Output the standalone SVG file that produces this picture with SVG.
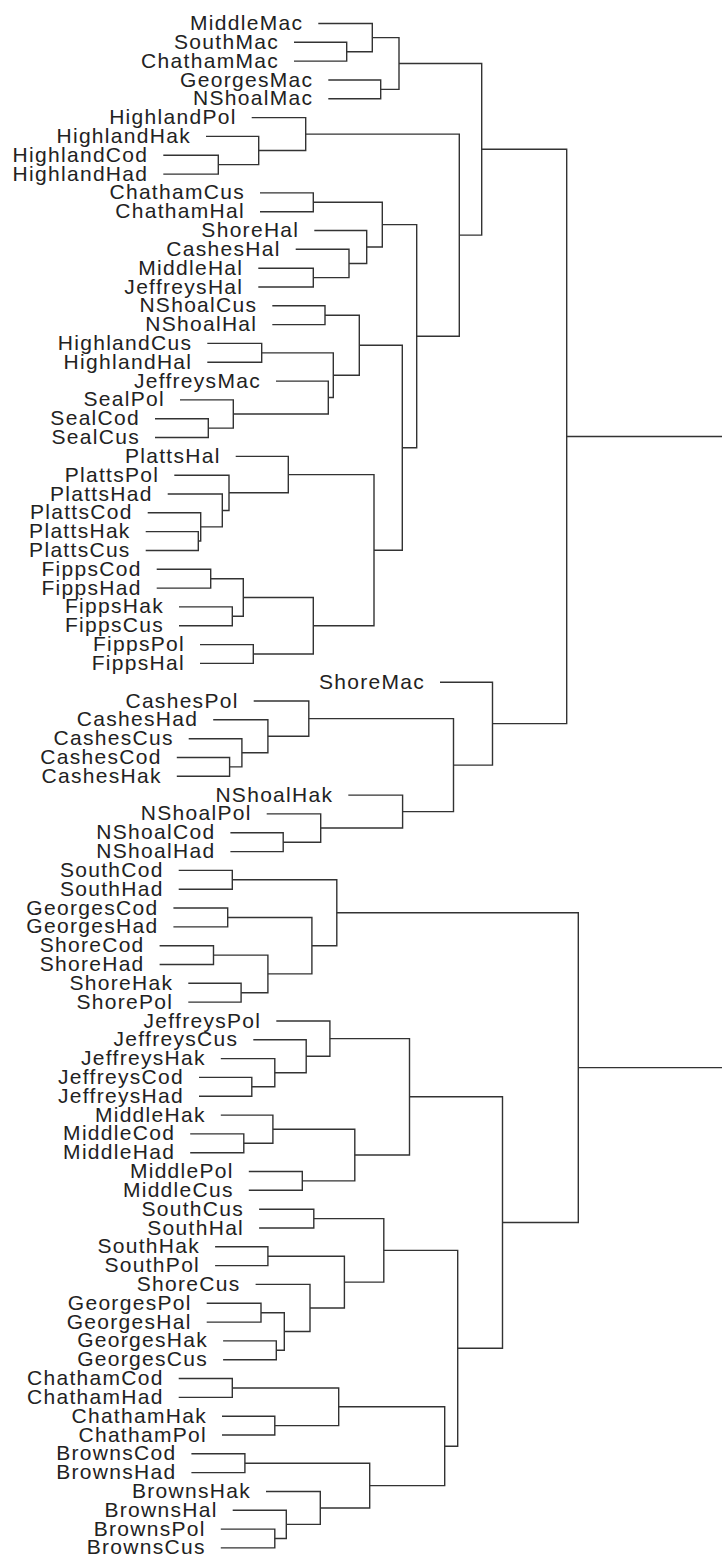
<svg xmlns="http://www.w3.org/2000/svg" width="722" height="1558" viewBox="0 0 722 1558">
<style>
.lbl{font-family:"Liberation Sans",Arial,sans-serif;font-size:21px;letter-spacing:1.3px;fill:#222;text-anchor:end}
.cn path{fill:none;stroke:#333;stroke-width:1.4}
</style>
<rect width="722" height="1558" fill="#fff"/>
<g id="connectors" class="cn">
<path d="M294 42.3H346.7V61.1H294"/>
<path d="M318.3 23.5H372.3V51.7H346.7"/>
<path d="M328.3 80H380.7V98.8H328.3"/>
<path d="M372.3 37.6H399V89.4H380.7"/>
<path d="M163.3 155.2H218.3V174.1H163.3"/>
<path d="M206 136.4H258.7V164.65H218.3"/>
<path d="M251.7 117.6H305.7V150.5H258.7"/>
<path d="M260 192.9H313.3V211.7H260"/>
<path d="M258.3 268.2H313.3V287H258.3"/>
<path d="M295.7 249.3H349V277.6H313.3"/>
<path d="M314.3 230.5H366.7V263.5H349"/>
<path d="M313.3 202.3H382.3V247H366.7"/>
<path d="M272.3 305.8H325V324.6H272.3"/>
<path d="M207.3 343.4H261.7V362.3H207.3"/>
<path d="M155 418.7H208.3V437.5H155"/>
<path d="M180 399.9H233.3V428.1H208.3"/>
<path d="M276 381.1H328.3V414H233.3"/>
<path d="M261.7 352.85H333.3V397.55H328.3"/>
<path d="M325 315.2H359.3V375.2H333.3"/>
<path d="M145.7 531.6H198.3V550.5H145.7"/>
<path d="M147.7 512.8H200.7V541.05H198.3"/>
<path d="M167.7 494H222.3V526.9H200.7"/>
<path d="M174.3 475.2H229V510.45H222.3"/>
<path d="M235.7 456.4H288.3V492.8H229"/>
<path d="M156.7 569.3H210.7V588.1H156.7"/>
<path d="M179 606.9H232.3V625.7H179"/>
<path d="M210.7 578.7H243.3V616.3H232.3"/>
<path d="M200 644.6H253.3V663.4H200"/>
<path d="M243.3 597.5H313.3V654H253.3"/>
<path d="M288.3 474.6H374V625.75H313.3"/>
<path d="M359.3 345.2H402.3V550.2H374"/>
<path d="M382.3 224.65H416.7V447.7H402.3"/>
<path d="M305.7 134.1H459.3V336.2H416.7"/>
<path d="M399 63.5H481.7V235.15H459.3"/>
<path d="M176.8 757.5H229.6V776.3H176.8"/>
<path d="M188.7 738.7H241.9V766.9H229.6"/>
<path d="M213.2 719.8H267.9V752.8H241.9"/>
<path d="M253.7 701H308.8V736.3H267.9"/>
<path d="M230.4 832.8H283.2V851.6H230.4"/>
<path d="M266.7 813.9H320.7V842.2H283.2"/>
<path d="M348.3 795.1H402.6V828.05H320.7"/>
<path d="M308.8 718.65H453.5V811.6H402.6"/>
<path d="M440 682.2H492.5V765.1H453.5"/>
<path d="M481.7 149.3H566.7V723.65H492.5"/>
<path d="M566.7 436.5H722"/>
<path d="M178.7 870.4H232.3V889.2H178.7"/>
<path d="M173.4 908H227.7V926.9H173.4"/>
<path d="M159.6 945.7H213.5V964.5H159.6"/>
<path d="M188.3 983.3H241.1V1002.1H188.3"/>
<path d="M213.5 955.1H267.9V992.7H241.1"/>
<path d="M227.7 917.45H311.9V973.9H267.9"/>
<path d="M232.3 879.8H336.8V945.7H311.9"/>
<path d="M199 1077.4H251.8V1096.2H199"/>
<path d="M220.8 1058.6H274.8V1086.8H251.8"/>
<path d="M253.3 1039.8H306.2V1072.7H274.8"/>
<path d="M276.3 1021H329.9V1056.25H306.2"/>
<path d="M190.2 1133.9H243.8V1152.7H190.2"/>
<path d="M220.8 1115.1H272.9V1143.3H243.8"/>
<path d="M248.8 1171.5H302.3V1190.3H248.8"/>
<path d="M272.9 1129.2H354.8V1180.9H302.3"/>
<path d="M329.9 1038.6H409.5V1155.05H354.8"/>
<path d="M259.1 1209.2H313.8V1228H259.1"/>
<path d="M215.1 1246.8H267.9V1265.6H215.1"/>
<path d="M206.7 1303.3H261V1322.1H206.7"/>
<path d="M223.1 1340.9H276.3V1359.7H223.1"/>
<path d="M261 1312.7H284.3V1350.3H276.3"/>
<path d="M255.6 1284.4H310V1331.5H284.3"/>
<path d="M267.9 1256.2H344.4V1307.95H310"/>
<path d="M313.8 1218.6H383.8V1282.1H344.4"/>
<path d="M178.7 1378.5H232.3V1397.4H178.7"/>
<path d="M222 1416.2H274.8V1435H222"/>
<path d="M232.3 1387.95H338.7V1425.6H274.8"/>
<path d="M191.4 1453.8H244.9V1472.6H191.4"/>
<path d="M220.8 1529.1H274.8V1547.9H220.8"/>
<path d="M232.7 1510.3H286.3V1538.5H274.8"/>
<path d="M266 1491.5H320.3V1524.4H286.3"/>
<path d="M244.9 1463.2H369.7V1507.95H320.3"/>
<path d="M338.7 1406.8H444.7V1485.6H369.7"/>
<path d="M383.8 1250.35H457.7V1446.2H444.7"/>
<path d="M409.5 1096.8H502.5V1348.3H457.7"/>
<path d="M336.8 912.75H578.3V1222.55H502.5"/>
<path d="M578.3 1067.65H722"/>
</g>
<g id="n-MiddleMac"><text class="lbl" x="303.3" y="30">MiddleMac</text></g>
<g id="n-SouthMac"><text class="lbl" x="279" y="48.8">SouthMac</text></g>
<g id="n-ChathamMac"><text class="lbl" x="279" y="67.6">ChathamMac</text></g>
<g id="n-GeorgesMac"><text class="lbl" x="313.3" y="86.5">GeorgesMac</text></g>
<g id="n-NShoalMac"><text class="lbl" x="313.3" y="105.3">NShoalMac</text></g>
<g id="n-HighlandPol"><text class="lbl" x="236.7" y="124.1">HighlandPol</text></g>
<g id="n-HighlandHak"><text class="lbl" x="191" y="142.9">HighlandHak</text></g>
<g id="n-HighlandCod"><text class="lbl" x="148.3" y="161.7">HighlandCod</text></g>
<g id="n-HighlandHad"><text class="lbl" x="148.3" y="180.6">HighlandHad</text></g>
<g id="n-ChathamCus"><text class="lbl" x="245" y="199.4">ChathamCus</text></g>
<g id="n-ChathamHal"><text class="lbl" x="245" y="218.2">ChathamHal</text></g>
<g id="n-ShoreHal"><text class="lbl" x="299.3" y="237">ShoreHal</text></g>
<g id="n-CashesHal"><text class="lbl" x="280.7" y="255.8">CashesHal</text></g>
<g id="n-MiddleHal"><text class="lbl" x="243.3" y="274.7">MiddleHal</text></g>
<g id="n-JeffreysHal"><text class="lbl" x="243.3" y="293.5">JeffreysHal</text></g>
<g id="n-NShoalCus"><text class="lbl" x="257.3" y="312.3">NShoalCus</text></g>
<g id="n-NShoalHal"><text class="lbl" x="257.3" y="331.1">NShoalHal</text></g>
<g id="n-HighlandCus"><text class="lbl" x="192.3" y="349.9">HighlandCus</text></g>
<g id="n-HighlandHal"><text class="lbl" x="192.3" y="368.8">HighlandHal</text></g>
<g id="n-JeffreysMac"><text class="lbl" x="261" y="387.6">JeffreysMac</text></g>
<g id="n-SealPol"><text class="lbl" x="165" y="406.4">SealPol</text></g>
<g id="n-SealCod"><text class="lbl" x="140" y="425.2">SealCod</text></g>
<g id="n-SealCus"><text class="lbl" x="140" y="444">SealCus</text></g>
<g id="n-PlattsHal"><text class="lbl" x="220.7" y="462.9">PlattsHal</text></g>
<g id="n-PlattsPol"><text class="lbl" x="159.3" y="481.7">PlattsPol</text></g>
<g id="n-PlattsHad"><text class="lbl" x="152.7" y="500.5">PlattsHad</text></g>
<g id="n-PlattsCod"><text class="lbl" x="132.7" y="519.3">PlattsCod</text></g>
<g id="n-PlattsHak"><text class="lbl" x="130.7" y="538.1">PlattsHak</text></g>
<g id="n-PlattsCus"><text class="lbl" x="130.7" y="557">PlattsCus</text></g>
<g id="n-FippsCod"><text class="lbl" x="141.7" y="575.8">FippsCod</text></g>
<g id="n-FippsHad"><text class="lbl" x="141.7" y="594.6">FippsHad</text></g>
<g id="n-FippsHak"><text class="lbl" x="164" y="613.4">FippsHak</text></g>
<g id="n-FippsCus"><text class="lbl" x="164" y="632.2">FippsCus</text></g>
<g id="n-FippsPol"><text class="lbl" x="185" y="651.1">FippsPol</text></g>
<g id="n-FippsHal"><text class="lbl" x="185" y="669.9">FippsHal</text></g>
<g id="n-ShoreMac"><text class="lbl" x="425" y="688.7">ShoreMac</text></g>
<g id="n-CashesPol"><text class="lbl" x="238.7" y="707.5">CashesPol</text></g>
<g id="n-CashesHad"><text class="lbl" x="198.2" y="726.3">CashesHad</text></g>
<g id="n-CashesCus"><text class="lbl" x="173.7" y="745.2">CashesCus</text></g>
<g id="n-CashesCod"><text class="lbl" x="161.8" y="764">CashesCod</text></g>
<g id="n-CashesHak"><text class="lbl" x="161.8" y="782.8">CashesHak</text></g>
<g id="n-NShoalHak"><text class="lbl" x="333.3" y="801.6">NShoalHak</text></g>
<g id="n-NShoalPol"><text class="lbl" x="251.7" y="820.4">NShoalPol</text></g>
<g id="n-NShoalCod"><text class="lbl" x="215.4" y="839.3">NShoalCod</text></g>
<g id="n-NShoalHad"><text class="lbl" x="215.4" y="858.1">NShoalHad</text></g>
<g id="n-SouthCod"><text class="lbl" x="163.7" y="876.9">SouthCod</text></g>
<g id="n-SouthHad"><text class="lbl" x="163.7" y="895.7">SouthHad</text></g>
<g id="n-GeorgesCod"><text class="lbl" x="158.4" y="914.5">GeorgesCod</text></g>
<g id="n-GeorgesHad"><text class="lbl" x="158.4" y="933.4">GeorgesHad</text></g>
<g id="n-ShoreCod"><text class="lbl" x="144.6" y="952.2">ShoreCod</text></g>
<g id="n-ShoreHad"><text class="lbl" x="144.6" y="971">ShoreHad</text></g>
<g id="n-ShoreHak"><text class="lbl" x="173.3" y="989.8">ShoreHak</text></g>
<g id="n-ShorePol"><text class="lbl" x="173.3" y="1008.6">ShorePol</text></g>
<g id="n-JeffreysPol"><text class="lbl" x="261.3" y="1027.5">JeffreysPol</text></g>
<g id="n-JeffreysCus"><text class="lbl" x="238.3" y="1046.3">JeffreysCus</text></g>
<g id="n-JeffreysHak"><text class="lbl" x="205.8" y="1065.1">JeffreysHak</text></g>
<g id="n-JeffreysCod"><text class="lbl" x="184" y="1083.9">JeffreysCod</text></g>
<g id="n-JeffreysHad"><text class="lbl" x="184" y="1102.7">JeffreysHad</text></g>
<g id="n-MiddleHak"><text class="lbl" x="205.8" y="1121.6">MiddleHak</text></g>
<g id="n-MiddleCod"><text class="lbl" x="175.2" y="1140.4">MiddleCod</text></g>
<g id="n-MiddleHad"><text class="lbl" x="175.2" y="1159.2">MiddleHad</text></g>
<g id="n-MiddlePol"><text class="lbl" x="233.8" y="1178">MiddlePol</text></g>
<g id="n-MiddleCus"><text class="lbl" x="233.8" y="1196.8">MiddleCus</text></g>
<g id="n-SouthCus"><text class="lbl" x="244.1" y="1215.7">SouthCus</text></g>
<g id="n-SouthHal"><text class="lbl" x="244.1" y="1234.5">SouthHal</text></g>
<g id="n-SouthHak"><text class="lbl" x="200.1" y="1253.3">SouthHak</text></g>
<g id="n-SouthPol"><text class="lbl" x="200.1" y="1272.1">SouthPol</text></g>
<g id="n-ShoreCus"><text class="lbl" x="240.6" y="1290.9">ShoreCus</text></g>
<g id="n-GeorgesPol"><text class="lbl" x="191.7" y="1309.8">GeorgesPol</text></g>
<g id="n-GeorgesHal"><text class="lbl" x="191.7" y="1328.6">GeorgesHal</text></g>
<g id="n-GeorgesHak"><text class="lbl" x="208.1" y="1347.4">GeorgesHak</text></g>
<g id="n-GeorgesCus"><text class="lbl" x="208.1" y="1366.2">GeorgesCus</text></g>
<g id="n-ChathamCod"><text class="lbl" x="163.7" y="1385">ChathamCod</text></g>
<g id="n-ChathamHad"><text class="lbl" x="163.7" y="1403.9">ChathamHad</text></g>
<g id="n-ChathamHak"><text class="lbl" x="207" y="1422.7">ChathamHak</text></g>
<g id="n-ChathamPol"><text class="lbl" x="207" y="1441.5">ChathamPol</text></g>
<g id="n-BrownsCod"><text class="lbl" x="176.4" y="1460.3">BrownsCod</text></g>
<g id="n-BrownsHad"><text class="lbl" x="176.4" y="1479.1">BrownsHad</text></g>
<g id="n-BrownsHak"><text class="lbl" x="251" y="1498">BrownsHak</text></g>
<g id="n-BrownsHal"><text class="lbl" x="217.7" y="1516.8">BrownsHal</text></g>
<g id="n-BrownsPol"><text class="lbl" x="205.8" y="1535.6">BrownsPol</text></g>
<g id="n-BrownsCus"><text class="lbl" x="205.8" y="1554.4">BrownsCus</text></g>
</svg>
